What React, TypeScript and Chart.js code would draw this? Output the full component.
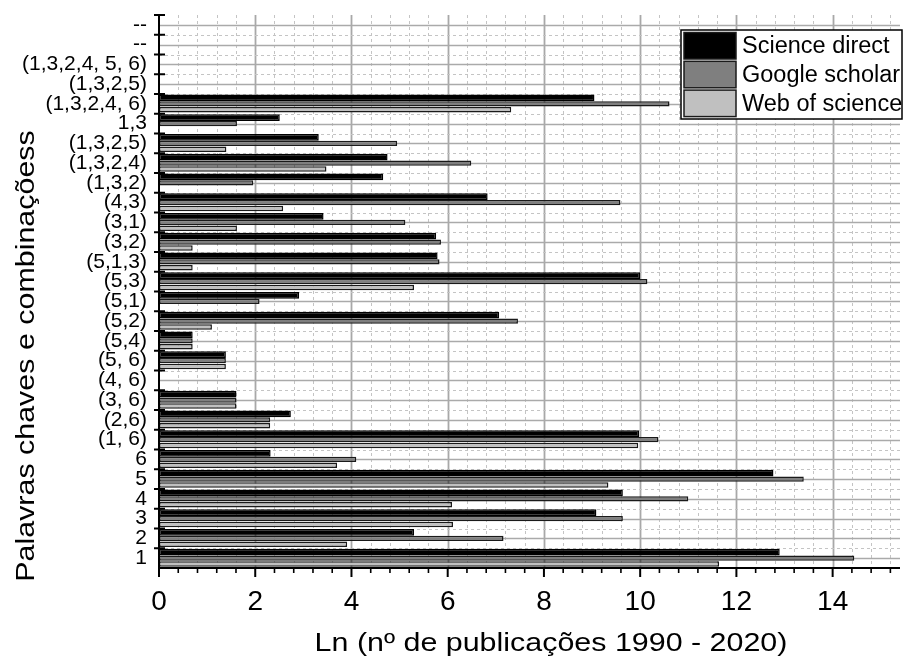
import { useEffect, useRef } from 'react';
import { Chart, registerables } from 'chart.js';

Chart.register(...registerables);

const FONT = '"Liberation Sans", Arial, Helvetica, sans-serif';

// Keyword combinations, listed top to bottom
const categories = [
  '--', '--', '(1,3,2,4, 5, 6)', '(1,3,2,5)', '(1,3,2,4, 6)', '1,3', '(1,3,2,5)',
  '(1,3,2,4)', '(1,3,2)', '(4,3)', '(3,1)', '(3,2)', '(5,1,3)', '(5,3)', '(5,1)',
  '(5,2)', '(5,4)', '(5, 6)', '(4, 6)', '(3, 6)', '(2,6)', '(1, 6)', '6', '5', '4',
  '3', '2', '1',
];

// Ln(number of publications), one value per combination
const scienceDirect = [
  null, null, null, null, 9.05, 2.51, 3.32,
  4.75, 4.66, 6.83, 3.42, 5.76, 5.79, 10.0, 2.91,
  7.07, 0.7, 1.39, null, 1.61, 2.74, 9.98, 2.32, 12.77, 9.64,
  9.09, 5.3, 12.9,
];
const googleScholar = [
  null, null, null, null, 10.61, 1.62, 4.95,
  6.49, 1.96, 9.59, 5.12, 5.86, 5.83, 10.15, 2.09,
  7.46, 0.7, 1.39, null, 1.61, 2.31, 10.38, 4.1, 13.4, 11.0,
  9.64, 7.16, 14.45,
];
const webOfScience = [
  null, null, null, null, 7.32, null, 1.4,
  3.48, null, 2.58, 1.62, 0.7, 0.7, 5.3, null,
  1.1, 0.7, 1.39, null, 1.61, 2.31, 9.96, 3.7, 9.34, 6.09,
  6.11, 3.91, 11.64,
];

const seriesNames = ['Science direct', 'Google scholar', 'Web of science'];
const seriesColors = ['#000000', '#7f7f7f', '#c0c0c0'];
const seriesBarPercent = [1.15, 0.92, 0.92];
const xTickValues = [0, 2, 4, 6, 8, 10, 12, 14];
const xMax = 15.4;
const minorStep = 0.4;
const xTitle = 'Ln (nº de publicações 1990 - 2020)';
const yTitle = 'Palavras chaves e combinaçõess';

// Background grid: solid lines on majors / category centres, dashed lines between
const gridPlugin = {
  id: 'gridLines',
  beforeDatasetsDraw(chart: any) {
    const { ctx, chartArea, scales } = chart;
    const { left, right, top, bottom } = chartArea;
    const x = scales.x;
    const y = scales.y;
    ctx.save();
    const steps = Math.round(xMax / minorStep);
    for (let k = 1; k <= steps; k++) {
      const px = Math.round(x.getPixelForValue(k * minorStep)) + 0.5;
      ctx.beginPath();
      if (k % 5 === 0) {
        ctx.setLineDash([]);
        ctx.strokeStyle = '#a8a8a8';
        ctx.lineWidth = 1.8;
      } else {
        ctx.setLineDash([3, 3]);
        ctx.strokeStyle = '#c4c4c4';
        ctx.lineWidth = 1;
      }
      ctx.moveTo(px, top);
      ctx.lineTo(px, bottom);
      ctx.stroke();
    }
    categories.forEach((_, i) => {
      const cy = Math.round(y.getPixelForValue(i)) + 0.5;
      ctx.setLineDash([]);
      ctx.strokeStyle = '#aaaaaa';
      ctx.lineWidth = 1.4;
      ctx.beginPath();
      ctx.moveTo(left, cy);
      ctx.lineTo(right, cy);
      ctx.stroke();
      if (i < categories.length - 1) {
        const by = Math.round(y.getPixelForValue(i + 0.5)) + 0.5;
        ctx.setLineDash([3, 3]);
        ctx.strokeStyle = '#c4c4c4';
        ctx.lineWidth = 1;
        ctx.beginPath();
        ctx.moveTo(left, by);
        ctx.lineTo(right, by);
        ctx.stroke();
      }
    });
    ctx.restore();
  },
};

// Axis lines, tick marks, titles and the boxed legend
const framePlugin = {
  id: 'frame',
  afterDatasetsDraw(chart: any) {
    const { ctx, chartArea, scales } = chart;
    const { left, right, top, bottom } = chartArea;
    const x = scales.x;
    const y = scales.y;
    ctx.save();
    ctx.strokeStyle = '#000';
    ctx.setLineDash([]);
    ctx.lineWidth = 2;
    ctx.beginPath();
    ctx.moveTo(left, top);
    ctx.lineTo(left, bottom);
    ctx.moveTo(left - 1, bottom);
    ctx.lineTo(right, bottom);
    ctx.stroke();
    // y ticks at category boundaries
    for (let i = -1; i < categories.length - 1; i++) {
      const by = y.getPixelForValue(i + 0.5);
      ctx.beginPath();
      ctx.moveTo(left - 5, by);
      ctx.lineTo(left + 6, by);
      ctx.stroke();
    }
    // x ticks
    const steps = Math.round(xMax / minorStep);
    for (let k = 0; k <= steps; k++) {
      const px = x.getPixelForValue(k * minorStep);
      const major = k % 5 === 0;
      ctx.lineWidth = major ? 2 : 1.6;
      ctx.beginPath();
      ctx.moveTo(px, bottom);
      ctx.lineTo(px, bottom + (major ? 9 : 5));
      ctx.stroke();
    }
    ctx.restore();
  },
  afterDraw(chart: any) {
    const { ctx } = chart;
    ctx.save();
    ctx.fillStyle = '#000';
    ctx.font = `26px ${FONT}`;
    ctx.textAlign = 'center';
    ctx.textBaseline = 'alphabetic';
    // x title
    ctx.save();
    ctx.translate(551, 651);
    ctx.scale(1.17, 1);
    ctx.fillText(xTitle, 0, 0);
    ctx.restore();
    // y title
    ctx.save();
    ctx.translate(34, 356);
    ctx.rotate(-Math.PI / 2);
    ctx.scale(1.17, 1);
    ctx.fillText(yTitle, 0, 0);
    ctx.restore();

    // legend
    const bx = 681;
    const byTop = 30;
    const bw = 221;
    const bh = 89;
    ctx.fillStyle = '#fff';
    ctx.fillRect(bx, byTop, bw, bh);
    ctx.strokeStyle = '#000';
    ctx.lineWidth = 1.5;
    ctx.strokeRect(bx, byTop, bw, bh);
    ctx.font = `23.5px ${FONT}`;
    ctx.textAlign = 'left';
    ctx.textBaseline = 'middle';
    seriesNames.forEach((name, i) => {
      const sy = 32.5 + i * 28.8;
      ctx.fillStyle = seriesColors[i];
      ctx.fillRect(684, sy, 52, 26.5);
      ctx.strokeStyle = '#1a1a1a';
      ctx.lineWidth = 1.5;
      ctx.strokeRect(684, sy, 52, 26.5);
      ctx.fillStyle = '#000';
      ctx.fillText(name, 742, sy + 14);
    });
    ctx.restore();
  },
};

export default function App() {
  const canvasRef = useRef<HTMLCanvasElement | null>(null);

  useEffect(() => {
    const canvas = canvasRef.current;
    if (!canvas) return;
    const series = [scienceDirect, googleScholar, webOfScience];
    const chart = new Chart(canvas, {
      type: 'bar',
      data: {
        labels: categories,
        datasets: series.map((values, i) => ({
          label: seriesNames[i],
          data: values,
          backgroundColor: seriesColors[i],
          borderColor: i === 0 ? '#000' : '#1a1a1a',
          borderWidth: 1.5,
          borderSkipped: false,
          categoryPercentage: 0.9,
          barPercentage: seriesBarPercent[i],
        })),
      },
      options: {
        indexAxis: 'y',
        responsive: false,
        animation: false,
        layout: { padding: { top: 15, right: 4, left: 0, bottom: 0 } },
        plugins: {
          legend: { display: false },
          tooltip: { enabled: false },
        },
        scales: {
          x: {
            type: 'linear',
            min: 0,
            max: xMax,
            position: 'bottom',
            grid: { display: false, drawTicks: false },
            border: { display: false },
            ticks: {
              color: '#000',
              padding: 17,
              font: { family: FONT, size: 28 },
              maxRotation: 0,
            },
            afterBuildTicks: (scale: any) => {
              scale.ticks = xTickValues.map((v) => ({ value: v }));
            },
            afterFit: (scale: any) => {
              scale.height = 91;
              scale.paddingLeft = 0;
              scale.paddingRight = 0;
            },
          },
          y: {
            type: 'category',
            grid: { display: false, drawTicks: false },
            border: { display: false },
            ticks: {
              color: '#000',
              padding: 12,
              autoSkip: false,
              font: { family: FONT, size: 21 },
            },
            afterFit: (scale: any) => {
              scale.width = 159;
              scale.paddingTop = 0;
              scale.paddingBottom = 0;
            },
          },
        },
      },
      plugins: [gridPlugin, framePlugin],
    } as any);
    return () => chart.destroy();
  }, []);

  return (
    <div style={{ position: 'absolute', left: 0, top: 0, width: 904, height: 659, background: '#fff' }}>
      <canvas ref={canvasRef} width={904} height={659} />
    </div>
  );
}
